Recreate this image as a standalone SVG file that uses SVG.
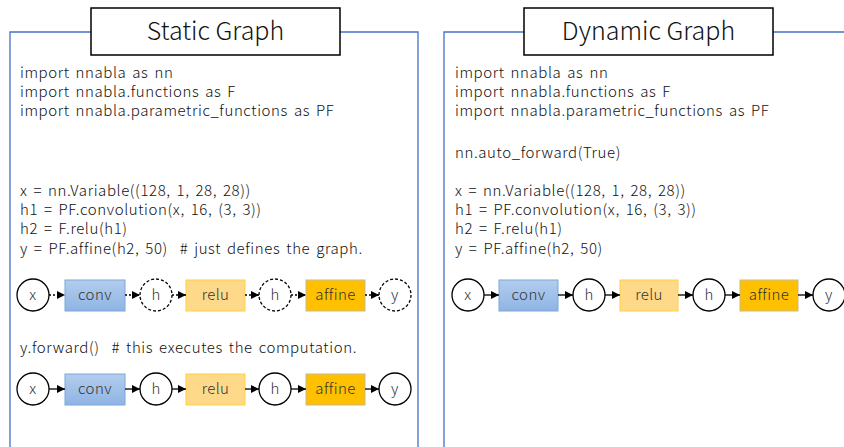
<svg xmlns="http://www.w3.org/2000/svg" width="844" height="447" viewBox="0 0 844 447">
<style>
.panel{fill:none;stroke:#4472c4;stroke-width:1.3}
.title{fill:#fff;stroke:#000;stroke-width:1.5}
.tt{font-family:"Noto Sans CJK JP","Noto Sans",sans-serif;font-size:25px;font-weight:300;fill:#111;text-anchor:middle}
.code{font-family:"Noto Sans CJK JP","Noto Sans",sans-serif;font-size:15px;font-weight:300;letter-spacing:0.6px;word-spacing:2px;fill:#111;white-space:pre}
.var{fill:#fff;stroke:#000;stroke-width:1.3}
.dvar{fill:#fff;stroke:#000;stroke-width:1.3;stroke-dasharray:3 2}
.conv{fill:url(#gb);stroke:#7aa7dc;stroke-width:1}
.relu{fill:#ffd98a;stroke:#ffd040;stroke-width:1}
.aff{fill:#ffc000;stroke:#c9b98a;stroke-width:1}
.lbl{font-family:"Noto Sans CJK JP","Noto Sans",sans-serif;font-size:15px;font-weight:300;letter-spacing:0.4px;fill:#333;text-anchor:middle}
.e{stroke:#000;stroke-width:1.3;fill:none;marker-end:url(#ah)}
.d{stroke-dasharray:2 2}
</style>
<defs>
<linearGradient id="gb" x1="0" y1="0" x2="0" y2="1"><stop offset="0" stop-color="#b2cdee"/><stop offset="1" stop-color="#8fb4e3"/></linearGradient>
<marker id="ah" viewBox="0 0 10 10" refX="10" refY="5" markerWidth="8" markerHeight="8" markerUnits="userSpaceOnUse" orient="auto"><path d="M0,0L10,5L0,10z" fill="#000"/></marker>
</defs>
<g id="static-panel">
<path class="panel" d="M10,447V32H91M340,32H418V447"/>
<rect class="title" x="91" y="8" width="249" height="47"/>
<text class="tt" x="215.5" y="40">Static Graph</text>
<text class="code" x="20" y="78">import nnabla as nn</text>
<text class="code" x="20" y="97">import nnabla.functions as F</text>
<text class="code" x="20" y="116">import nnabla.parametric_functions as PF</text>
<text class="code" x="20" y="196">x = nn.Variable((128, 1, 28, 28))</text>
<text class="code" x="20" y="215">h1 = PF.convolution(x, 16, (3, 3))</text>
<text class="code" x="20" y="234">h2 = F.relu(h1)</text>
<text class="code" x="20" y="254">y = PF.affine(h2, 50)  # just defines the graph.</text>
<text class="code" x="20" y="353">y.forward()  # this executes the computation.</text>
</g>
<g id="dynamic-panel">
<path class="panel" d="M444,447V32H524M773,32H844"/>
<rect class="title" x="524" y="8" width="249" height="47"/>
<text class="tt" x="648.5" y="40">Dynamic Graph</text>
<text class="code" x="455" y="78">import nnabla as nn</text>
<text class="code" x="455" y="97">import nnabla.functions as F</text>
<text class="code" x="455" y="116">import nnabla.parametric_functions as PF</text>
<text class="code" x="455" y="158">nn.auto_forward(True)</text>
<text class="code" x="455" y="196">x = nn.Variable((128, 1, 28, 28))</text>
<text class="code" x="455" y="215">h1 = PF.convolution(x, 16, (3, 3))</text>
<text class="code" x="455" y="234">h2 = F.relu(h1)</text>
<text class="code" x="455" y="254">y = PF.affine(h2, 50)</text>
</g>
<g id="s1-x"><circle class="var" cx="33" cy="295" r="16"/><text class="lbl" x="33" y="300">x</text></g>
<g id="s1-conv"><rect class="conv" x="65" y="280" width="60" height="31"/><text class="lbl" x="95" y="300">conv</text></g>
<g id="s1-h1"><circle class="dvar" cx="156" cy="295" r="16"/><text class="lbl" x="156" y="300">h</text></g>
<g id="s1-relu"><rect class="relu" x="186" y="280" width="59" height="31"/><text class="lbl" x="215.5" y="300">relu</text></g>
<g id="s1-h2"><circle class="dvar" cx="275" cy="295" r="16"/><text class="lbl" x="275" y="300">h</text></g>
<g id="s1-affine"><rect class="aff" x="306" y="280" width="59" height="31"/><text class="lbl" x="335.5" y="300">affine</text></g>
<g id="s1-y"><circle class="dvar" cx="395" cy="295" r="16"/><text class="lbl" x="395" y="300">y</text></g>
<g id="s2-x"><circle class="var" cx="33" cy="389" r="16"/><text class="lbl" x="33" y="394">x</text></g>
<g id="s2-conv"><rect class="conv" x="65" y="374" width="60" height="31"/><text class="lbl" x="95" y="394">conv</text></g>
<g id="s2-h1"><circle class="var" cx="156" cy="389" r="16"/><text class="lbl" x="156" y="394">h</text></g>
<g id="s2-relu"><rect class="relu" x="186" y="374" width="59" height="31"/><text class="lbl" x="215.5" y="394">relu</text></g>
<g id="s2-h2"><circle class="var" cx="275" cy="389" r="16"/><text class="lbl" x="275" y="394">h</text></g>
<g id="s2-affine"><rect class="aff" x="306" y="374" width="59" height="31"/><text class="lbl" x="335.5" y="394">affine</text></g>
<g id="s2-y"><circle class="var" cx="395" cy="389" r="16"/><text class="lbl" x="395" y="394">y</text></g>
<g id="d-x"><circle class="var" cx="468" cy="295" r="16"/><text class="lbl" x="468" y="300">x</text></g>
<g id="d-conv"><rect class="conv" x="499" y="280" width="59" height="31"/><text class="lbl" x="528.5" y="300">conv</text></g>
<g id="d-h1"><circle class="var" cx="589" cy="295" r="16"/><text class="lbl" x="589" y="300">h</text></g>
<g id="d-relu"><rect class="relu" x="620" y="280" width="58" height="31"/><text class="lbl" x="649" y="300">relu</text></g>
<g id="d-h2"><circle class="var" cx="709" cy="295" r="16"/><text class="lbl" x="709" y="300">h</text></g>
<g id="d-affine"><rect class="aff" x="740" y="280" width="58" height="31"/><text class="lbl" x="769" y="300">affine</text></g>
<g id="d-y"><circle class="var" cx="829" cy="295" r="16"/><text class="lbl" x="829" y="300">y</text></g>
<g id="connectors">
<path class="e d" d="M49,295H65"/>
<path class="e d" d="M125,295H140"/>
<path class="e d" d="M172,295H186"/>
<path class="e d" d="M245,295H259"/>
<path class="e d" d="M291,295H306"/>
<path class="e d" d="M365,295H379"/>
<path class="e" d="M49,389H65"/>
<path class="e" d="M125,389H140"/>
<path class="e" d="M172,389H186"/>
<path class="e" d="M245,389H259"/>
<path class="e" d="M291,389H306"/>
<path class="e" d="M365,389H379"/>
<path class="e" d="M484,295H499"/>
<path class="e" d="M558,295H573"/>
<path class="e" d="M605,295H620"/>
<path class="e" d="M678,295H693"/>
<path class="e" d="M725,295H740"/>
<path class="e" d="M798,295H813"/>
</g>
</svg>
